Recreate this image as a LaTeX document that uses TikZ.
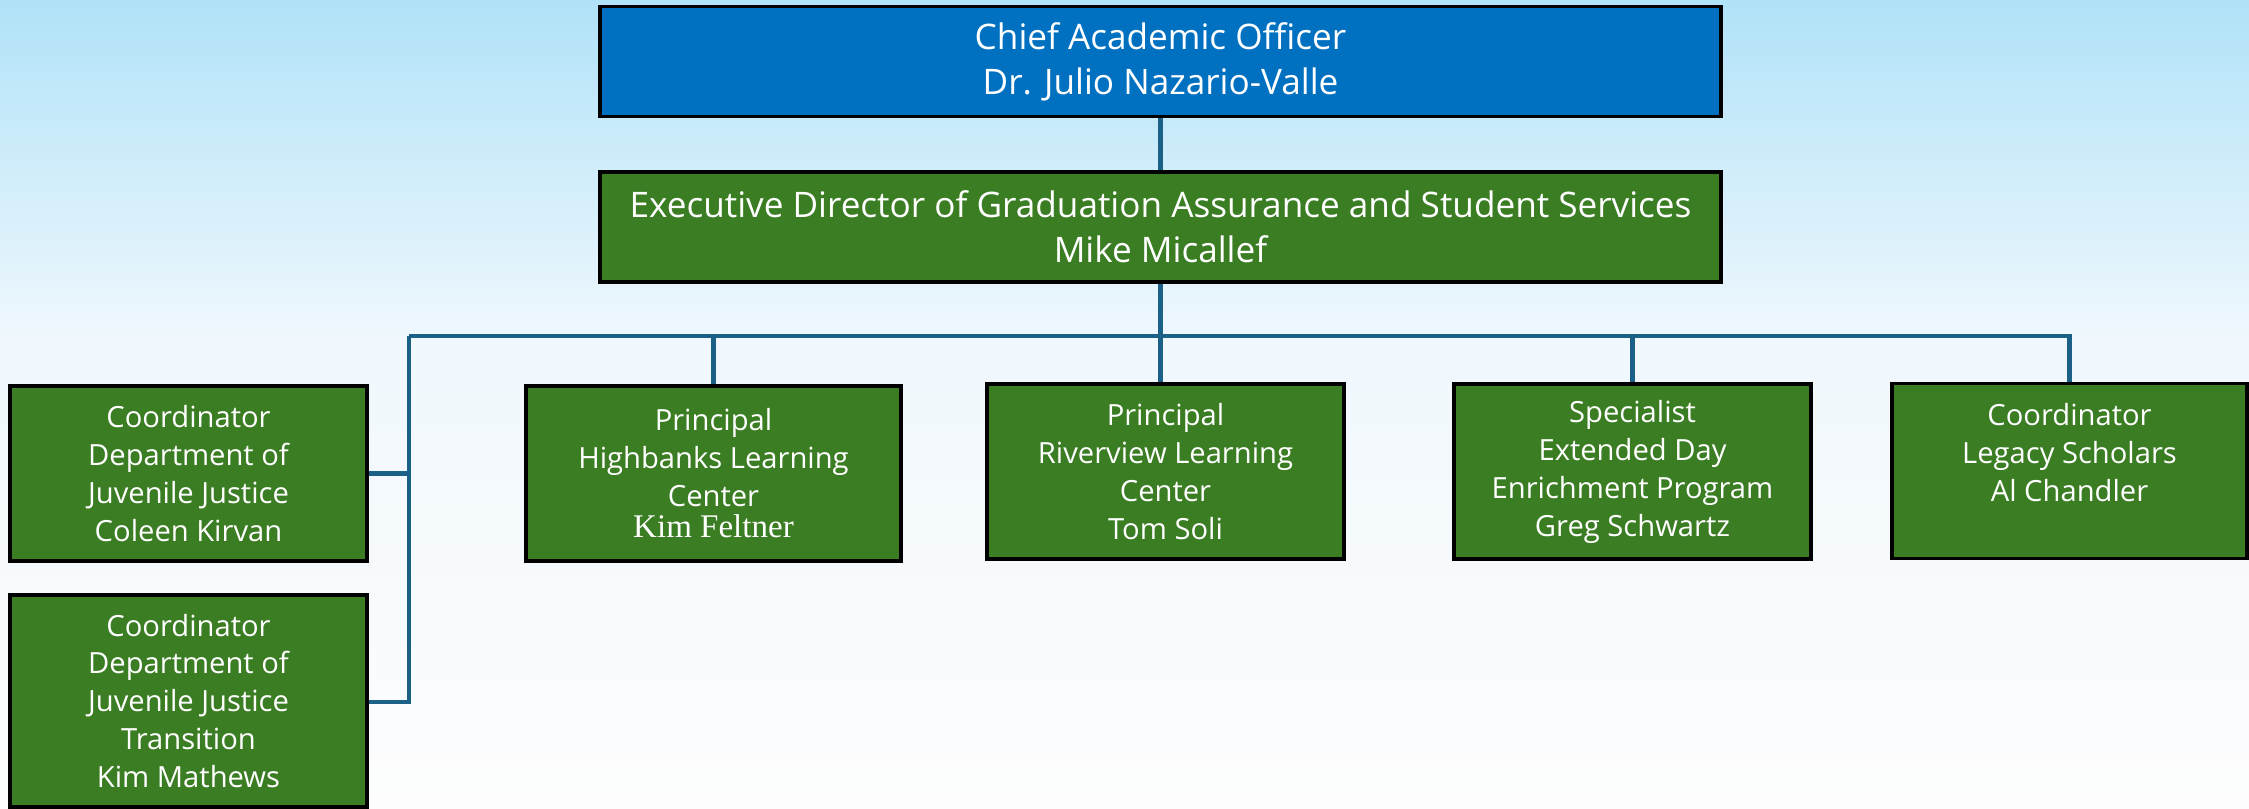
\documentclass[tikz,border=0pt]{standalone}
\usepackage{fontspec}
\setmainfont{Open Sans}
\newfontfamily\namefont{Liberation Serif}
\usetikzlibrary{positioning}

\definecolor{skytop}{RGB}{176,226,248}
\definecolor{skymid}{RGB}{240,248,253}
\definecolor{skybot}{RGB}{253,253,253}
\definecolor{chiefblue}{RGB}{0,112,192}
\definecolor{unitgreen}{RGB}{59,125,35}
\definecolor{linkblue}{RGB}{26,96,135}

\tikzset{
  unitbox/.style={draw=black, line width=1pt, fill=unitgreen, text=white,
    align=center, inner sep=2pt, minimum height=1.75cm,
    font=\fontsize{8.3}{10.8}\selectfont},
  headbox/.style={unitbox, minimum width=11.21cm, minimum height=1.1cm,
    font=\fontsize{10}{12.8}\selectfont},
  link/.style={linkblue, line width=1.2pt}
}

\begin{document}
\begin{tikzpicture}

% background
\shade[top color=skytop, bottom color=skymid] (0,0) rectangle (22.49,-3.4);
\shade[top color=skymid, bottom color=skybot] (0,-3.4) rectangle (22.49,-8.09);
\useasboundingbox (0,0) rectangle (22.49,-8.09);

% top of the chart
\node[headbox, fill=chiefblue] (cao) at (11.605,-0.615) {Chief Academic Officer\\Dr. Julio Nazario-Valle};
\node[headbox] (exec) at (11.605,-2.27) {Executive Director of Graduation Assurance and Student Services\\Mike Micallef};

% units
\node[unitbox, minimum width=3.57cm] (djj) at (1.885,-4.735) {Coordinator\\Department of\\Juvenile Justice\\Coleen Kirvan};
\node[unitbox, minimum width=3.57cm, minimum height=2.12cm] (djjt) at (1.885,-7.01) {Coordinator\\Department of\\Juvenile Justice\\Transition\\Kim Mathews};
\node[unitbox, minimum width=3.75cm] (high) at (7.135,-4.735) {Principal\\Highbanks Learning\\Center\\[-2pt]{\namefont\fontsize{9.4}{10}\selectfont Kim Feltner}};
\node[unitbox, minimum width=3.57cm] (river) at (11.655,-4.715) {Principal\\Riverview Learning\\Center\\Tom Soli};
\node[unitbox, minimum width=3.57cm] (edep) at (16.325,-4.715) {Specialist\\Extended Day\\Enrichment Program\\Greg Schwartz};
\node[unitbox, minimum width=3.55cm] (legacy) at (20.695,-4.71) {Coordinator\\Legacy Scholars\\Al Chandler\\\mbox{}};

% connectors
\coordinate (busL) at (4.09,-3.36);
\coordinate (busR) at (legacy.north |- busL);
\coordinate (busB) at (4.09,-7.02);

\draw[link] (cao) -- (exec);
\draw[link] (exec.south) -- (exec.south |- river.north);
\draw[link] (busL) -- (busR) -- (legacy.north);
\draw[link] (busL) -- (busB) -- (djjt.east |- busB);
\draw[link] (djj.east) -- (busL |- djj.east);
\draw[link] (high.north) -- (high.north |- busL);
\draw[link] (edep.north) -- (edep.north |- busL);

\end{tikzpicture}
\end{document}
